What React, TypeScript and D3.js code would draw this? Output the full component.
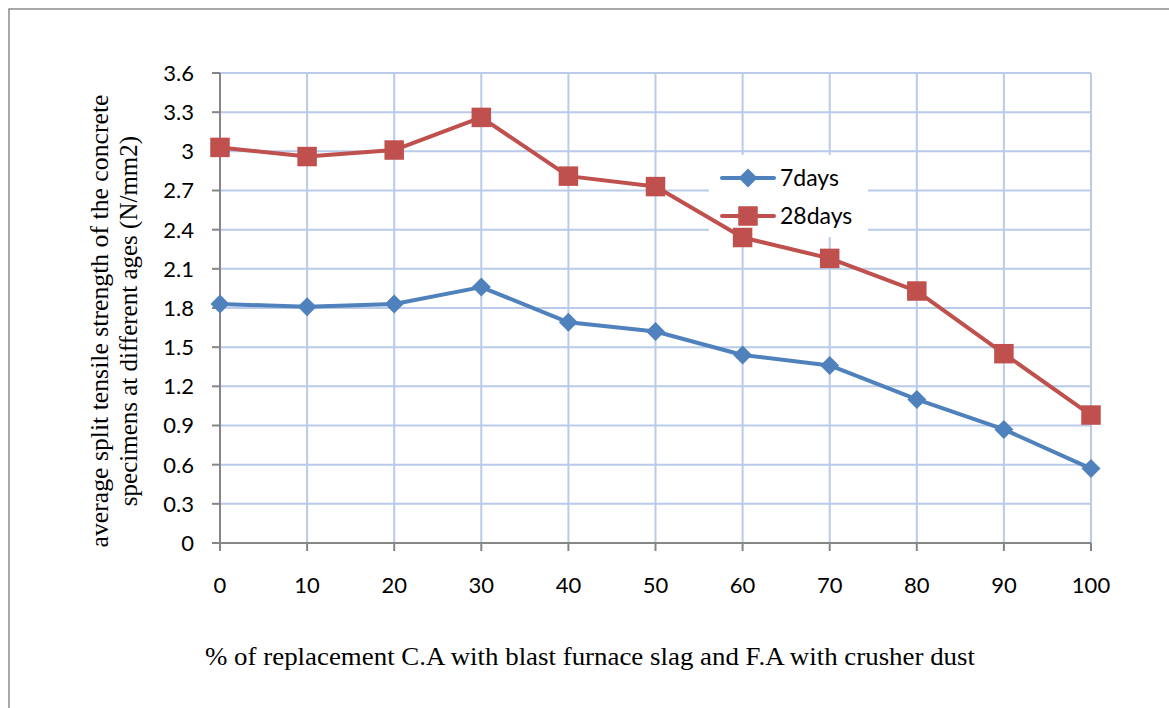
import React, { useEffect, useRef } from "react";
import * as d3 from "d3";

const categories = [0, 10, 20, 30, 40, 50, 60, 70, 80, 90, 100];
const days7 = [1.83, 1.81, 1.83, 1.96, 1.69, 1.62, 1.44, 1.36, 1.1, 0.87, 0.57];
const days28 = [3.03, 2.96, 3.01, 3.26, 2.81, 2.73, 2.34, 2.18, 1.93, 1.45, 0.98];
const yTicks = [0, 0.3, 0.6, 0.9, 1.2, 1.5, 1.8, 2.1, 2.4, 2.7, 3, 3.3, 3.6];
const seriesNames = ["7days", "28days"];

const W = 1169;
const H = 708;
const plot = { left: 220, right: 1091, top: 73, bottom: 543 };
const BLUE = "#4f81bd";
const RED = "#c0504d";
const GRID = "#b9cbe9";
const AXIS = "#868686";
const SANS = "Lato, 'Open Sans', sans-serif";
const SERIF = "'Liberation Serif', 'Times New Roman', serif";

export default function App() {
  const ref = useRef<SVGSVGElement>(null);

  useEffect(() => {
    const svg = d3.select(ref.current);
    svg.selectAll("*").remove();

    const x = d3.scaleLinear().domain([0, 100]).range([plot.left, plot.right]);
    const y = d3.scaleLinear().domain([0, 3.6]).range([plot.bottom, plot.top]);

    svg.append("rect").attr("width", W).attr("height", H).attr("fill", "white");
    svg.append("rect").attr("x", 9).attr("y", 9).attr("width", W + 20).attr("height", H + 20)
      .attr("fill", "none").attr("stroke", "#8c8c8c").attr("stroke-width", 1.5);

    const g = svg.append("g");
    g.selectAll(".hg").data(yTicks.filter(v => v > 0)).enter().append("line")
      .attr("x1", plot.left).attr("x2", plot.right)
      .attr("y1", d => y(d)).attr("y2", d => y(d))
      .attr("stroke", GRID).attr("stroke-width", 2);
    g.selectAll(".vg").data(categories.filter(v => v > 0)).enter().append("line")
      .attr("x1", d => x(d)).attr("x2", d => x(d))
      .attr("y1", plot.top).attr("y2", plot.bottom)
      .attr("stroke", GRID).attr("stroke-width", 2);

    g.append("rect").attr("x", 709).attr("y", 155).attr("width", 159).attr("height", 82).attr("fill", "white");

    g.append("line").attr("x1", plot.left).attr("x2", plot.left).attr("y1", plot.top).attr("y2", plot.bottom)
      .attr("stroke", AXIS).attr("stroke-width", 2);
    g.append("line").attr("x1", plot.left).attr("x2", plot.right).attr("y1", plot.bottom).attr("y2", plot.bottom)
      .attr("stroke", AXIS).attr("stroke-width", 2);
    g.selectAll(".yt").data(yTicks).enter().append("line")
      .attr("x1", plot.left - 8).attr("x2", plot.left)
      .attr("y1", d => y(d)).attr("y2", d => y(d))
      .attr("stroke", AXIS).attr("stroke-width", 2);
    g.selectAll(".xt").data(categories).enter().append("line")
      .attr("x1", d => x(d)).attr("x2", d => x(d))
      .attr("y1", plot.bottom).attr("y2", plot.bottom + 8)
      .attr("stroke", AXIS).attr("stroke-width", 2);

    g.selectAll(".yl").data(yTicks).enter().append("text")
      .attr("x", plot.left - 26).attr("y", d => y(d)).attr("dy", "0.36em")
      .attr("text-anchor", "end").attr("font-family", SANS).attr("font-size", 22)
      .attr("fill", "#000").text(d => String(+d.toFixed(1)));
    g.selectAll(".xl").data(categories).enter().append("text")
      .attr("x", d => x(d)).attr("y", 585).attr("dy", "0.36em")
      .attr("text-anchor", "middle").attr("font-family", SANS).attr("font-size", 22)
      .attr("fill", "#000").text(d => String(d));

    const series = [
      { name: seriesNames[0], values: days7, color: BLUE, marker: d3.symbolDiamond2, size: 230 },
      { name: seriesNames[1], values: days28, color: RED, marker: d3.symbolSquare, size: 380 },
    ];
    const line = d3.line<number>().x((_, i) => x(categories[i])).y(d => y(d));
    series.forEach(s => {
      g.append("path").attr("d", line(s.values)).attr("fill", "none")
        .attr("stroke", s.color).attr("stroke-width", 4).attr("stroke-linejoin", "round");
      g.selectAll(null).data(s.values).enter().append("path")
        .attr("transform", (d, i) => `translate(${x(categories[i])},${y(d)})`)
        .attr("d", d3.symbol().type(s.marker).size(s.size)())
        .attr("fill", s.color);
    });

    series.forEach((s, i) => {
      const ly = 178 + i * 38;
      g.append("line").attr("x1", 722).attr("x2", 774).attr("y1", ly).attr("y2", ly)
        .attr("stroke", s.color).attr("stroke-width", 4).attr("stroke-linecap", "round");
      g.append("path").attr("transform", `translate(748,${ly})`)
        .attr("d", d3.symbol().type(s.marker).size(s.size)()).attr("fill", s.color);
      g.append("text").attr("x", 780).attr("y", ly).attr("dy", "0.36em")
        .attr("font-family", SANS).attr("font-size", 23).attr("fill", "#000").text(s.name);
    });

    g.append("text").attr("x", 205).attr("y", 665)
      .attr("font-family", SERIF).attr("font-size", 25)
      .attr("textLength", 770).attr("lengthAdjust", "spacingAndGlyphs")
      .attr("fill", "#000").text("% of replacement C.A with blast furnace slag and F.A with crusher dust");
    const yt = g.append("text").attr("transform", `translate(108,321) rotate(-90)`)
      .attr("text-anchor", "middle").attr("font-family", SERIF).attr("font-size", 25).attr("fill", "#000");
    yt.append("tspan").attr("x", 0).attr("y", 0)
      .attr("textLength", 453).attr("lengthAdjust", "spacingAndGlyphs")
      .text("average split tensile strength of the concrete");
    yt.append("tspan").attr("x", 0).attr("y", 29).text("specimens at different ages (N/mm2)");
  }, []);

  return <svg ref={ref} width={W} height={H} style={{ display: "block", position: "absolute", left: 0, top: 0 }} />;
}
